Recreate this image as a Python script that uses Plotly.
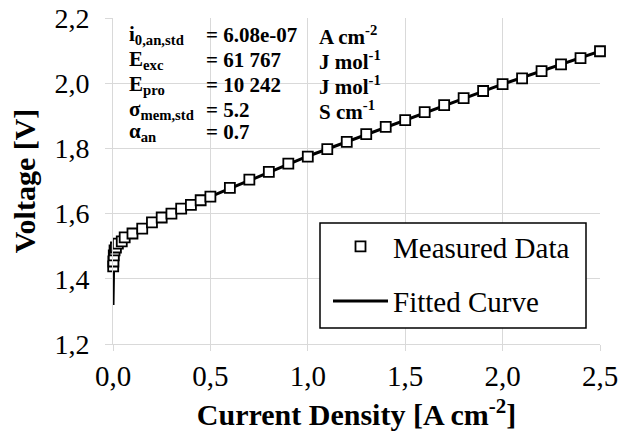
import plotly.graph_objects as go

# Measured data (current density A cm-2, voltage V)
meas_j = [0.001, 0.002, 0.004, 0.008, 0.015, 0.025, 0.045, 0.06, 0.1, 0.15, 0.2, 0.25,
          0.3, 0.35, 0.4, 0.45, 0.5, 0.6, 0.7, 0.8, 0.9, 1.0, 1.1, 1.2, 1.3, 1.4, 1.5,
          1.6, 1.7, 1.8, 1.9, 2.0, 2.1, 2.2, 2.3, 2.4, 2.5]
meas_v = [1.438, 1.453, 1.472, 1.487, 1.496, 1.508, 1.515, 1.527, 1.539, 1.554, 1.573, 1.588,
          1.600, 1.615, 1.627, 1.641, 1.652, 1.679, 1.704, 1.728, 1.753, 1.775, 1.798, 1.820,
          1.844, 1.866, 1.887, 1.911, 1.933, 1.954, 1.976, 1.997, 2.015, 2.037, 2.058, 2.077, 2.098]

# Fitted curve
fit_j = [0.00001, 0.0001, 0.0005, 0.001, 0.002, 0.004, 0.008, 0.015, 0.025, 0.045, 0.06,
         0.1, 0.2, 0.3, 0.5, 1.0, 1.5, 2.0, 2.5]
fit_v = [1.32, 1.37, 1.41, 1.435, 1.452, 1.47, 1.486, 1.497, 1.507, 1.517, 1.525,
         1.54, 1.572, 1.600, 1.652, 1.776, 1.887, 1.997, 2.098]

x_ticks = [0.0, 0.5, 1.0, 1.5, 2.0, 2.5]
y_ticks = [1.2, 1.4, 1.6, 1.8, 2.0, 2.2]

param_labels = ["i<sub>0,an,std</sub>", "E<sub>exc</sub>", "E<sub>pro</sub>",
                "σ<sub>mem,std</sub>", "α<sub>an</sub>"]
param_values = ["= 6.08e-07", "= 61 767", "= 10 242", "= 5.2", "= 0.7"]
param_units = ["A cm<sup>-2</sup>", "J mol<sup>-1</sup>", "J mol<sup>-1</sup>", "S cm<sup>-1</sup>", ""]

SERIF = "Liberation Serif"
GRID = "#d9d9d9"

fig = go.Figure()
fig.add_trace(go.Scatter(
    x=fit_j, y=fit_v, mode="lines", name="Fitted Curve", legendgroup="fit",
    line=dict(color="black", width=3), legendrank=2, cliponaxis=False))
fig.add_trace(go.Scatter(
    x=meas_j, y=meas_v, mode="markers", name="Measured Data", legendgroup="meas",
    marker=dict(symbol="square", size=10, color="white", line=dict(color="black", width=1.8)),
    legendrank=1, cliponaxis=False))

# The page body has an 8px default margin: figure is shrunk so that it fits the window.
OFF = 8
PAGE_W, PAGE_H = 633, 437
W, H = PAGE_W - OFF, PAGE_H - OFF
# plot area in page pixels: x 113..600, y 18..344
L, R, T, B = 113 - OFF, PAGE_W - 600, 18 - OFF, PAGE_H - 344
pw, ph = W - L - R, H - T - B


def px(xp):
    return (xp - OFF - L) / pw


def py(yp):
    return (H - B - (yp - OFF)) / ph


# Parameter annotations
row_y = [35, 60, 85, 110, 132]
cols = [(127, param_labels), (204, param_values), (317, param_units)]
for cx, texts in cols:
    for ry, t in zip(row_y, texts):
        if not t:
            continue
        fig.add_annotation(
            x=px(cx), y=py(ry), xref="paper", yref="paper",
            text="<b>" + t + "</b>", showarrow=False, xanchor="left", yanchor="middle",
            font=dict(family=SERIF, size=21, color="black"))

# Legend frame
fig.add_shape(type="rect", xref="paper", yref="paper",
              x0=px(320), x1=px(586), y0=py(328), y1=py(223),
              line=dict(color="black", width=1.5), fillcolor="white", layer="above")

fig.update_layout(
    width=W, height=H,
    margin=dict(l=L, r=R, t=T, b=B),
    paper_bgcolor="white", plot_bgcolor="white",
    separators=", ",
    font=dict(family=SERIF, color="black"),
    showlegend=True,
    legend=dict(
        x=px(328), y=py(221), xanchor="left", yanchor="top",
        bgcolor="rgba(0,0,0,0)", borderwidth=0,
        font=dict(family=SERIF, size=29, color="black"),
        itemwidth=55, tracegroupgap=14),
    xaxis=dict(
        range=[0, 2.5], tickvals=x_ticks, tickformat=".1f",
        showgrid=True, gridcolor=GRID, gridwidth=1,
        showline=True, linecolor=GRID, linewidth=1,
        ticks="outside", ticklen=6, tickcolor=GRID,
        tickfont=dict(family=SERIF, size=29, color="black"),
        ticklabeloverflow="allow",
        zeroline=False, automargin=False,
        title=dict(text="<b>Current Density [A cm<sup>-2</sup>]</b>",
                   font=dict(family=SERIF, size=30, color="black"), standoff=13)),
    yaxis=dict(
        range=[1.2, 2.2], tickvals=y_ticks, tickformat=".1f",
        showgrid=True, gridcolor=GRID, gridwidth=1,
        showline=True, linecolor=GRID, linewidth=1,
        ticks="outside", ticklen=7, tickcolor=GRID,
        tickfont=dict(family=SERIF, size=28, color="black"),
        ticklabelstandoff=10, ticklabeloverflow="allow",
        zeroline=False, automargin=False,
        title=dict(text="<b>Voltage [V]</b>",
                   font=dict(family=SERIF, size=30, color="black"), standoff=14)),
)

fig.write_html("out.html")
